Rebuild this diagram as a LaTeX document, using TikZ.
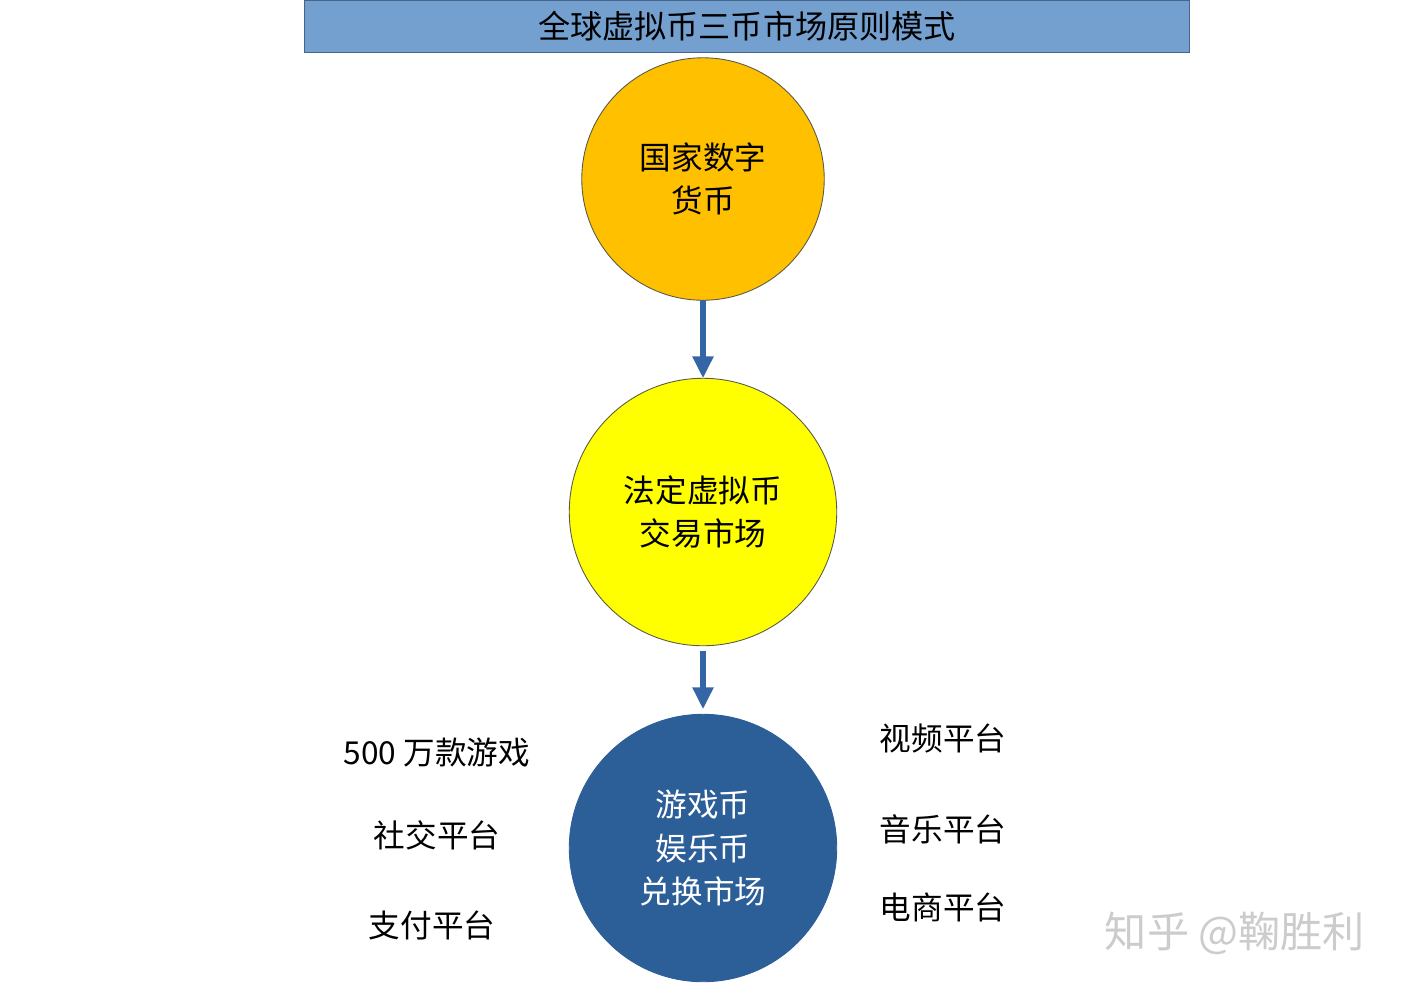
\documentclass[tikz,border=0pt]{standalone}
\usepackage{fontspec}
\setmainfont{Noto Sans CJK SC}
\usetikzlibrary{arrows.meta}
\definecolor{titleblue}{RGB}{116,160,208}
\definecolor{titleedge}{RGB}{70,100,140}
\definecolor{coinorange}{RGB}{255,192,0}
\definecolor{coinyellow}{RGB}{255,255,0}
\definecolor{coinblue}{RGB}{44,94,152}
\definecolor{coinedge}{RGB}{90,90,70}
\definecolor{arrowblue}{RGB}{52,101,164}
\begin{document}
\begin{tikzpicture}[x=0.02cm,y=-0.02cm,inner sep=0pt,outer sep=0pt,
coin/.style={draw=coinedge,circle,line width=0.5pt,align=center,font=\fontsize{18}{24.5}\selectfont},
flow/.style={-{Triangle[width=0.4cm,length=0.44cm]},line width=0.12cm,draw=arrowblue},
side/.style={font=\fontsize{18}{22}\selectfont}]
\useasboundingbox (0,0) rectangle (1403,992);
% title bar
\node[draw=titleedge,fill=titleblue,line width=0.5pt,minimum width=17.72cm,minimum height=1.04cm,
  font=\fontsize{18.3}{22}\selectfont] (title) at (747,26) {全球虚拟币三币市场原则模式};
% the three markets
\node[coin,fill=coinorange,minimum size=4.85cm] (cur1) at (703,179) {国家数字\\货币};
\node[coin,fill=coinyellow,minimum size=5.35cm] (cur2) at (703,512) {法定虚拟币\\交易市场};
\node[coin,draw=coinblue,fill=coinblue,text=white,minimum size=5.35cm] (cur3) at (703,848) {游戏币\\娱乐币\\兑换市场};
\draw[flow] (cur1) -- (cur2);
\draw[flow,shorten <=0.1cm,shorten >=0.1cm] (cur2) -- (cur3);
% platforms
\node[side] (games) at (437,753) {500 万款游戏};
\node[side] (social) at (437,835) {社交平台};
\node[side] (pay) at (432,925) {支付平台};
\node[side] (video) at (943,738) {视频平台};
\node[side] (music) at (943,829) {音乐平台};
\node[side] (shop) at (943,907) {电商平台};
\node[font=\fontsize{24}{28}\selectfont,text=black!20] (mark) at (1235,933) {知乎 @鞠胜利};
\end{tikzpicture}
\end{document}
